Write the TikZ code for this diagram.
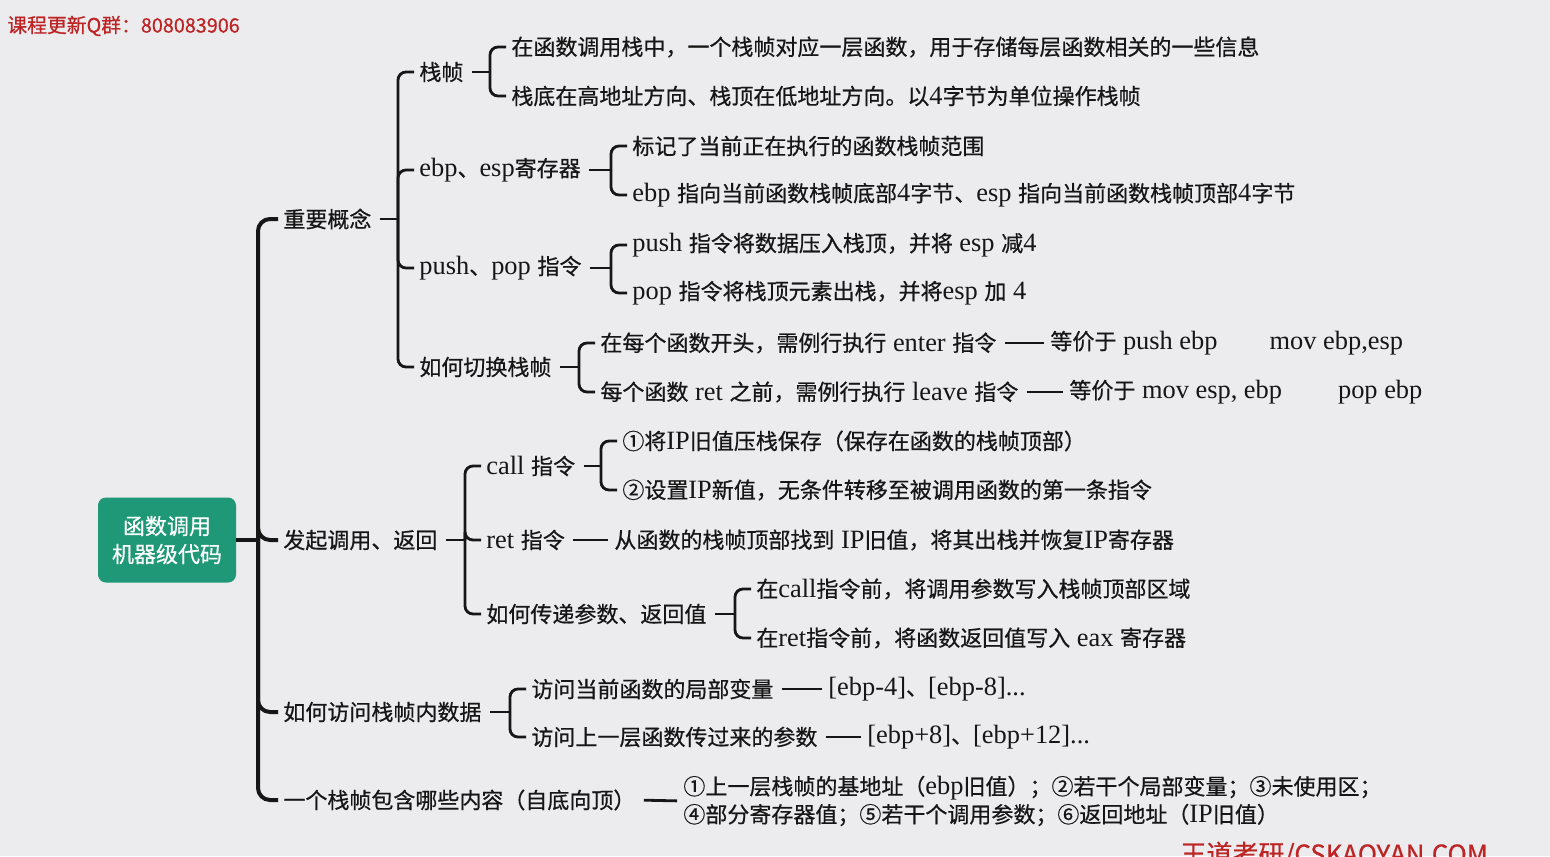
\documentclass[tikz,border=0pt]{standalone}
\usepackage{fontspec}
\setmainfont{Noto Sans CJK SC}[FakeBold=0.6]
\newfontfamily\latfont{Liberation Serif}[Scale=1.2]
\newcommand{\lat}[1]{{\latfont#1}}
\usetikzlibrary{calc}
\definecolor{bgc}{RGB}{236,235,238}
\definecolor{rootc}{RGB}{30,152,118}
\definecolor{markc}{RGB}{190,36,36}
\definecolor{inkc}{RGB}{22,22,22}
\tikzset{
  txt/.style={anchor=west, inner xsep=0pt, inner ysep=2pt, text=inkc,
    font=\fontsize{11pt}{14pt}\selectfont},
  rootbox/.style={fill=rootc, rounded corners=4pt, text=white, align=center,
    minimum width=69pt, minimum height=42.5pt, inner sep=2pt,
    font=\fontsize{11pt}{14pt}\selectfont},
  markt/.style={anchor=west, inner sep=0pt, text=markc},
  lk0/.style={line width=2pt, inkc},
  lk/.style={line width=1.4pt, inkc},
  lkb/.style={lk, rounded corners=4pt, shorten >=2.5pt},
  lks/.style={lk, shorten <=4pt, shorten >=3pt}
}
\begin{document}
\begin{tikzpicture}[x=0.5pt, y=-0.5pt]
  \useasboundingbox (0,0) rectangle (1550,856);
  \fill[bgc] (0,0) rectangle (1550,856);

  % 水印文字
  \node[markt, font=\fontsize{9.9pt}{12pt}\selectfont] (qun) at (7,26) {课程更新Q群：808083906};
  \node[markt, font=\fontsize{13pt}{15pt}\selectfont] (site) at (1180,855) {王道考研/CSKAOYAN.COM};

  % 根节点
  \node[rootbox] (root) at (167,540) {函数调用\\机器级代码};

  % 第一层
  \node[txt] (gn) at (283,219) {重要概念};
  \node[txt] (dy) at (283,540) {发起调用、返回};
  \node[txt] (fw) at (283,712) {如何访问栈帧内数据};
  \node[txt] (nr) at (283,800) {一个栈帧包含哪些内容（自底向顶）};

  \path (root.east -| gn.west) ++(-12.5pt,0) coordinate (jroot);
  \draw[lk0] (root.east) -- (jroot);
  \foreach \n in {gn,dy,fw,nr}
    \draw[lk0, rounded corners=6pt, shorten >=2.5pt] (jroot) |- (\n.west);

  % 重要概念
  \node[txt] (zz) at (419,72) {栈帧};
  \node[txt] (jc) at (419,170) {\lat{ebp}、\lat{esp}寄存器};
  \node[txt] (pp) at (419,268) {\lat{push}、\lat{pop }指令};
  \node[txt] (qh) at (419,367) {如何切换栈帧};
  \path (gn.east -| zz.west) ++(-10.5pt,0) coordinate (jgn);
  \draw[lk, shorten <=4pt] (gn.east) -- (jgn);
  \foreach \n in {zz,jc,pp,qh}
    \draw[lkb] (jgn) |- (\n.west);

  \node[txt] (zz1) at (511,47) {在函数调用栈中，一个栈帧对应一层函数，用于存储每层函数相关的一些信息};
  \node[txt] (zz2) at (511,96) {栈底在高地址方向、栈顶在低地址方向。以\lat{4}字节为单位操作栈帧};
  \path (zz.east -| zz1.west) ++(-10.5pt,0) coordinate (jzz);
  \draw[lk, shorten <=4pt] (zz.east) -- (jzz);
  \foreach \n in {zz1,zz2}
    \draw[lkb] (jzz) |- (\n.west);

  \node[txt] (jc1) at (632,146) {标记了当前正在执行的函数栈帧范围};
  \node[txt] (jc2) at (632,195) {\lat{ebp }指向当前函数栈帧底部\lat{4}字节、\lat{esp }指向当前函数栈帧顶部\lat{4}字节};
  \path (jc.east -| jc1.west) ++(-10.5pt,0) coordinate (jjc);
  \draw[lk, shorten <=4pt] (jc.east) -- (jjc);
  \foreach \n in {jc1,jc2}
    \draw[lkb] (jjc) |- (\n.west);

  \node[txt] (pp1) at (632,245) {\lat{push }指令将数据压入栈顶，并将\lat{ esp }减\lat{4}};
  \node[txt] (pp2) at (632,293) {\lat{pop }指令将栈顶元素出栈，并将\lat{esp }加\lat{ 4}};
  \path (pp.east -| pp1.west) ++(-10.5pt,0) coordinate (jpp);
  \draw[lk, shorten <=4pt] (pp.east) -- (jpp);
  \foreach \n in {pp1,pp2}
    \draw[lkb] (jpp) |- (\n.west);

  \node[txt] (qh1) at (600,343) {在每个函数开头，需例行执行\lat{ enter }指令};
  \node[txt] (qh2) at (600,392) {每个函数\lat{ ret }之前，需例行执行\lat{ leave }指令};
  \path (qh.east -| qh1.west) ++(-10.5pt,0) coordinate (jqh);
  \draw[lk, shorten <=4pt] (qh.east) -- (jqh);
  \foreach \n in {qh1,qh2}
    \draw[lkb] (jqh) |- (\n.west);
  \node[txt] (dj1) at (1050,343) {等价于\lat{ push ebp}\hspace{26pt}\lat{mov ebp,esp}};
  \node[txt] (dj2) at (1069,392) {等价于\lat{ mov esp, ebp}\hspace{28pt}\lat{pop ebp}};
  \draw[lks] (qh1.east) -- (dj1.west);
  \draw[lks] (qh2.east) -- (dj2.west);

  % 发起调用、返回
  \node[txt] (call) at (486,466) {\lat{call }指令};
  \node[txt] (ret) at (486,540) {\lat{ret }指令};
  \node[txt] (cs) at (486,614) {如何传递参数、返回值};
  \path (dy.east -| call.west) ++(-10.5pt,0) coordinate (jdy);
  \draw[lk, shorten <=4pt] (dy.east) -- (jdy);
  \foreach \n in {call,ret,cs}
    \draw[lkb] (jdy) |- (\n.west);

  \node[txt] (call1) at (622,441) {①将\lat{IP}旧值压栈保存（保存在函数的栈帧顶部）};
  \node[txt] (call2) at (622,490) {②设置\lat{IP}新值，无条件转移至被调用函数的第一条指令};
  \path (call.east -| call1.west) ++(-10.5pt,0) coordinate (jcall);
  \draw[lk, shorten <=4pt] (call.east) -- (jcall);
  \foreach \n in {call1,call2}
    \draw[lkb] (jcall) |- (\n.west);

  \node[txt] (ret1) at (614,540) {从函数的栈帧顶部找到\lat{ IP}旧值，将其出栈并恢复\lat{IP}寄存器};
  \draw[lks] (ret.east) -- (ret1.west);

  \node[txt] (cs1) at (756,589) {在\lat{call}指令前，将调用参数写入栈帧顶部区域};
  \node[txt] (cs2) at (756,638) {在\lat{ret}指令前，将函数返回值写入\lat{ eax }寄存器};
  \path (cs.east -| cs1.west) ++(-10.5pt,0) coordinate (jcs);
  \draw[lk, shorten <=4pt] (cs.east) -- (jcs);
  \foreach \n in {cs1,cs2}
    \draw[lkb] (jcs) |- (\n.west);

  % 如何访问栈帧内数据
  \node[txt] (fw1) at (531,689) {访问当前函数的局部变量};
  \node[txt] (fw2) at (531,737) {访问上一层函数传过来的参数};
  \path (fw.east -| fw1.west) ++(-10.5pt,0) coordinate (jfw);
  \draw[lk, shorten <=4pt] (fw.east) -- (jfw);
  \foreach \n in {fw1,fw2}
    \draw[lkb] (jfw) |- (\n.west);
  \node[txt] (ebp1) at (828,689) {\lat{[ebp-4]}、\lat{[ebp-8]...}};
  \node[txt] (ebp2) at (867,737) {\lat{[ebp+8]}、\lat{[ebp+12]...}};
  \draw[lks] (fw1.east) -- (ebp1.west);
  \draw[lks] (fw2.east) -- (ebp2.west);

  % 一个栈帧包含哪些内容
  \node[txt, align=left] (nr1) at (683,801) {①上一层栈帧的基地址（\lat{ebp}旧值）；②若干个局部变量；③未使用区；\\④部分寄存器值；⑤若干个调用参数；⑥返回地址（\lat{IP}旧值）};
  \draw[lks] (nr.east) -- (nr1.west);
\end{tikzpicture}
\end{document}
